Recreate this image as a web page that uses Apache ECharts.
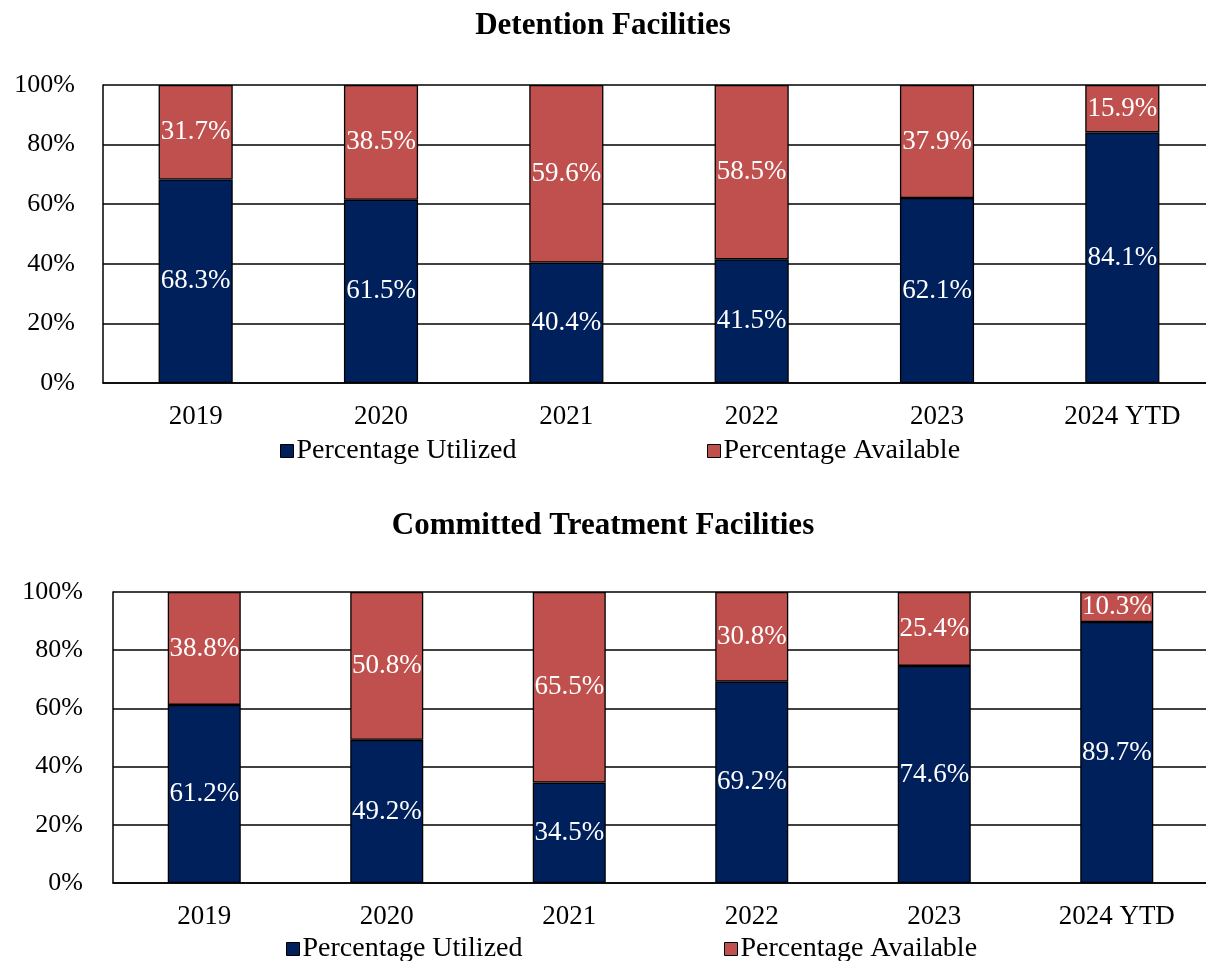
<!DOCTYPE html>
<html>
<head>
<meta charset="utf-8">
<script src="https://cdn.jsdelivr.net/npm/echarts@6/dist/echarts.min.js"></script>
<style>
  html, body { margin: 0; padding: 0; background: #fff; overflow: hidden; }
  #chart { width: 1206px; height: 961px; }
</style>
</head>
<body>
<div id="chart"></div>
<script>
const years = ['2019', '2020', '2021', '2022', '2023', '2024 YTD']
// Detention Facilities
const detUtilized = [68.3, 61.5, 40.4, 41.5, 62.1, 84.1]
const detAvailable = [31.7, 38.5, 59.6, 58.5, 37.9, 15.9]
// Committed Treatment Facilities
const ctfUtilized = [61.2, 49.2, 34.5, 69.2, 74.6, 89.7]
const ctfAvailable = [38.8, 50.8, 65.5, 30.8, 25.4, 10.3]
const yTicks = [0, 20, 40, 60, 80, 100]

const NAVY = '#00205C'
const RED = '#C0504D'
const FONT = '"Liberation Serif", "Times New Roman", serif'

const chart = echarts.init(document.getElementById('chart'))

function yAxis(gridIndex, margin) {
  return {
    type: 'value',
    gridIndex: gridIndex,
    min: yTicks[0],
    max: yTicks[yTicks.length - 1],
    interval: 20,
    axisLine: { show: true, lineStyle: { color: '#000', width: 1.5 } },
    axisTick: { show: false },
    splitLine: { show: true, lineStyle: { color: '#000', width: 1.5 } },
    axisLabel: {
      formatter: '{value}%',
      margin: margin,
      color: '#000',
      fontFamily: FONT,
      fontSize: 26
    }
  }
}

function xAxis(gridIndex) {
  return {
    type: 'category',
    gridIndex: gridIndex,
    data: years,
    axisLine: { show: true, lineStyle: { color: '#000', width: 1.5 } },
    axisTick: { show: false },
    axisLabel: {
      margin: 20,
      color: '#000',
      fontFamily: FONT,
      fontSize: 27
    }
  }
}

function barSeries(name, color, data, idx) {
  return {
    name: name,
    type: 'bar',
    stack: 'total' + idx,
    xAxisIndex: idx,
    yAxisIndex: idx,
    barWidth: '40%',
    data: data,
    itemStyle: { color: color, borderColor: '#000', borderWidth: 1.3 },
    label: {
      show: true,
      position: 'inside',
      formatter: p => p.value.toFixed(1) + '%',
      color: '#fff',
      fontFamily: FONT,
      fontSize: 27
    }
  }
}

function legendItem(name, color, left, top) {
  return {
    data: [{ name: name, itemStyle: { color: color, borderColor: '#000', borderWidth: 1 } }],
    left: left,
    top: top,
    itemWidth: 13,
    itemHeight: 13,
    itemGap: 4,
    icon: 'rect',
    selectedMode: false,
    textStyle: { color: '#000', fontFamily: FONT, fontSize: 28, padding: [0, 0, 0, -2] }
  }
}

chart.setOption({
  animation: false,
  backgroundColor: '#fff',
  title: [
    {
      text: 'Detention Facilities',
      left: 'center',
      top: 5,
      textStyle: { fontFamily: FONT, fontWeight: 'bold', fontSize: 31, color: '#000' }
    },
    {
      text: 'Committed Treatment Facilities',
      left: 'center',
      top: 505,
      textStyle: { fontFamily: FONT, fontWeight: 'bold', fontSize: 31, color: '#000' }
    }
  ],
  legend: [
    legendItem('Percentage Utilized', NAVY, 275, 432),
    legendItem('Percentage Available', RED, 702, 432),
    legendItem('Percentage Utilized', NAVY, 281, 930),
    legendItem('Percentage Available', RED, 719, 930)
  ],
  grid: [
    { left: 103, right: -9, top: 85, height: 298, outerBoundsMode: 'none', containLabel: false },
    { left: 113, right: -2, top: 592, height: 291, outerBoundsMode: 'none', containLabel: false }
  ],
  xAxis: [xAxis(0), xAxis(1)],
  yAxis: [yAxis(0, 28), yAxis(1, 30)],
  series: [
    barSeries('Percentage Utilized', NAVY, detUtilized, 0),
    barSeries('Percentage Available', RED, detAvailable, 0),
    barSeries('Percentage Utilized', NAVY, ctfUtilized, 1),
    barSeries('Percentage Available', RED, ctfAvailable, 1)
  ]
})
</script>
</body>
</html>
